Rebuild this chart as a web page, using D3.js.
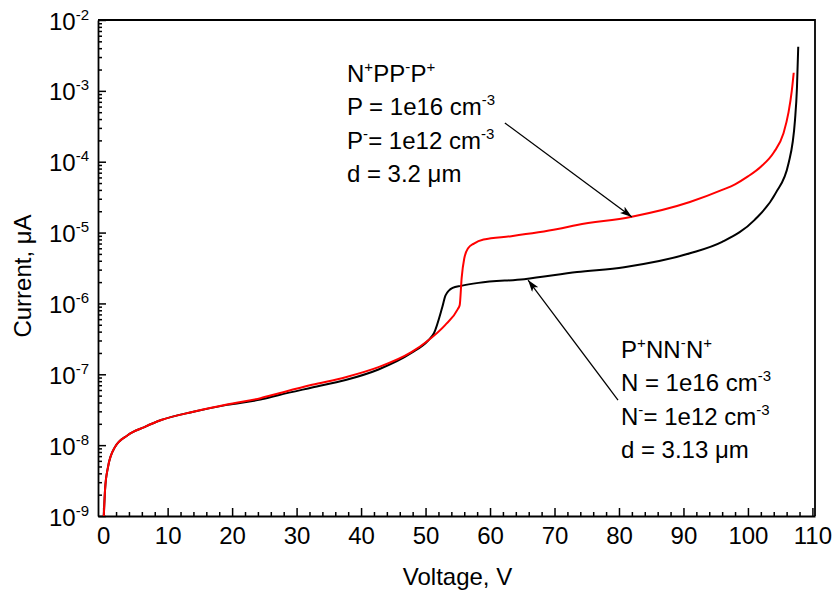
<!DOCTYPE html>
<html>
<head>
<meta charset="utf-8">
<script src="https://cdn.jsdelivr.net/npm/d3@7"></script>
<style>
  body { margin: 0; background: #fff; }
  svg { font-family: Arial, "Liberation Sans", sans-serif; }
</style>
</head>
<body>
<svg width="838" height="590"></svg>
<script>
// data (V in volts, I in µA)
var blackV = [0.1, 0.3, 0.75, 1.8, 3.8, 6.4, 9, 14, 19.2, 24.4, 27.3, 32.4, 37.6, 42.7, 47.8, 50.4, 51.3, 52.6, 53.1, 54.2, 55.5, 58.2, 65.3, 73.5, 80.8, 91, 96, 101, 104.3, 106.3, 107.3, 107.6, 107.8];
var blackI = [1e-9, 2.4e-9, 4.9e-9, 9.3e-9, 1.38e-8, 1.8e-8, 2.26e-8, 2.96e-8, 3.7e-8, 4.4e-8, 5.1e-8, 6.5e-8, 8.3e-8, 1.17e-7, 2e-7, 3e-7, 3.8e-7, 8.9e-7, 1.3e-6, 1.66e-6, 1.77e-6, 1.95e-6, 2.2e-6, 2.77e-6, 3.25e-6, 5.1e-6, 7.4e-6, 1.5e-5, 3.6e-5, 9.5e-5, 3.9e-4, 1.1e-3, 4.2e-3];

var redV = [0.1, 0.3, 0.75, 1.8, 3.8, 6.4, 9, 14, 19.2, 24.4, 27.3, 32.4, 37.6, 42.7, 47.8, 50.4, 53, 55, 55.3, 55.6, 56.0, 56.6, 57.5, 59, 63.3, 70.5, 73.5, 81.8, 91, 96, 98, 100, 102, 104, 105.5, 106.3, 106.8, 107.1];
var redI = [1e-9, 2.4e-9, 4.9e-9, 9.3e-9, 1.38e-8, 1.8e-8, 2.26e-8, 2.96e-8, 3.75e-8, 4.6e-8, 5.4e-8, 7.1e-8, 9.1e-8, 1.26e-7, 2.05e-7, 3e-7, 4.9e-7, 8.3e-7, 9.5e-7, 2.3e-6, 4.3e-6, 6e-6, 7e-6, 8e-6, 8.9e-6, 1.12e-5, 1.28e-5, 1.66e-5, 2.7e-5, 4e-5, 4.8e-5, 6.2e-5, 8.5e-5, 1.35e-4, 2.5e-4, 5e-4, 1e-3, 1.8e-3];

var xTicks = [0, 10, 20, 30, 40, 50, 60, 70, 80, 90, 100, 110];
var yExps = [-9, -8, -7, -6, -5, -4, -3, -2];

// annotation text: [text, superscript] pieces per line
var label1 = [
  [["N", ""], ["", "+"], ["PP", ""], ["", "-"], ["P", ""], ["", "+"]],
  [["P = 1e16 cm", ""], ["", "-3"]],
  [["P", ""], ["", "-"], [" = 1e12 cm", ""], ["", "-3"]],
  [["d = 3.2 \u03bcm", ""]]
];
var label2 = [
  [["P", ""], ["", "+"], ["NN", ""], ["", "-"], ["N", ""], ["", "+"]],
  [["N = 1e16 cm", ""], ["", "-3"]],
  [["N", ""], ["", "-"], [" = 1e12 cm", ""], ["", "-3"]],
  [["d = 3.13 \u03bcm", ""]]
];
var label1Pos = [37.8, 1.33e-3];   // V, I of first baseline
var label2Pos = [80.3, 1.7e-7];
var arrow1 = [[62.3, 3.52e-4], [82.0, 1.66e-5]];
var arrow2 = [[79.85, 4.33e-8], [65.9, 2.14e-6]];

var svg = d3.select("svg");
var pL = 98, pT = 20, pR = 815, pB = 516;
var fs = 24, sfs = 15;

var x = d3.scaleLinear().domain([-0.8, 110.4]).range([pL, pR]);
var y = d3.scaleLog().domain([1e-9, 1e-2]).range([pB, pT]);

// minor ticks
var xMinor = d3.range(0, 111, 2).filter(function(v){ return v % 10 != 0; });
var yMinor = [];
yExps.slice(0, -1).forEach(function(e){
  for (var k = 2; k <= 9; k++) yMinor.push(k * Math.pow(10, e));
});

svg.append("g").attr("transform", "translate(0," + pB + ")")
  .call(d3.axisBottom(x).tickValues(xMinor).tickSize(-4).tickFormat(""))
  .call(function(g){ g.select(".domain").remove(); });
svg.append("g").attr("transform", "translate(" + pL + ",0)")
  .call(d3.axisLeft(y).tickValues(yMinor).tickSize(-4).tickFormat(""))
  .call(function(g){ g.select(".domain").remove(); });

var xAxis = svg.append("g").attr("transform", "translate(0," + pB + ")")
  .call(d3.axisBottom(x).tickValues(xTicks).tickSize(-8).tickSizeOuter(0).tickPadding(11));
xAxis.selectAll("text").attr("font-size", fs).attr("font-family", "Arial, 'Liberation Sans', sans-serif").attr("fill", "#000");

var yAxis = svg.append("g").attr("transform", "translate(" + pL + ",0)")
  .call(d3.axisLeft(y).tickValues(yExps.map(function(e){ return Math.pow(10, e); }))
    .tickSize(-8).tickSizeOuter(0).tickFormat(""));
yAxis.selectAll(".tick").each(function(d){
  var t = d3.select(this).append("text")
    .attr("x", -9).attr("y", 9)
    .attr("text-anchor", "end")
    .attr("fill", "#000")
    .attr("font-size", fs)
    .attr("font-family", "Arial, 'Liberation Sans', sans-serif");
  t.append("tspan").text("10");
  t.append("tspan").attr("dy", -10).attr("font-size", sfs).text(Math.round(Math.log10(d)));
});

svg.selectAll(".tick line").attr("stroke", "#000").attr("stroke-width", 1.5);
svg.selectAll(".domain").attr("stroke", "#000").attr("stroke-width", 1.8);

// frame top / right
svg.append("path")
  .attr("d", "M" + pL + "," + pT + "H" + pR + "V" + pB)
  .attr("fill", "none").attr("stroke", "#000").attr("stroke-width", 1.8);

// clip
svg.append("clipPath").attr("id", "clip").append("rect")
  .attr("x", pL).attr("y", pT).attr("width", pR - pL).attr("height", pB - pT);

var line = d3.line()
  .x(function(d){ return x(d[0]); })
  .y(function(d){ return y(d[1]); })
  .curve(d3.curveMonotoneX);

var plot = svg.append("g").attr("clip-path", "url(#clip)");
plot.append("path").datum(d3.zip(blackV, blackI))
  .attr("d", line).attr("fill", "none").attr("stroke", "#000").attr("stroke-width", 2);
plot.append("path").datum(d3.zip(redV, redI))
  .attr("d", line).attr("fill", "none").attr("stroke", "#ff0000").attr("stroke-width", 2);

// arrows
svg.append("defs").append("marker")
  .attr("id", "head").attr("viewBox", "0 0 12 8")
  .attr("refX", 12).attr("refY", 4)
  .attr("markerWidth", 12).attr("markerHeight", 8)
  .attr("markerUnits", "userSpaceOnUse")
  .attr("orient", "auto")
  .append("path").attr("d", "M0,0L12,4L0,8L3,4Z").attr("fill", "#000");

[arrow1, arrow2].forEach(function(a){
  svg.append("line")
    .attr("x1", x(a[0][0])).attr("y1", y(a[0][1]))
    .attr("x2", x(a[1][0])).attr("y2", y(a[1][1]))
    .attr("stroke", "#000").attr("stroke-width", 1.3)
    .attr("marker-end", "url(#head)");
});

function drawLabel(lines, pos){
  var x0 = x(pos[0]), y0 = y(pos[1]);
  lines.forEach(function(parts, i){
    var t = svg.append("text")
      .attr("x", x0).attr("y", y0 + i * 33.3)
      .attr("font-size", fs).attr("fill", "#000");
    parts.forEach(function(p){
      if (p[0]) t.append("tspan").text(p[0]);
      if (p[1]) {
        t.append("tspan").attr("dy", -10).attr("font-size", sfs).text(p[1]);
        t.append("tspan").attr("dy", 10).attr("font-size", 1).text(" ");
      }
    });
  });
}
drawLabel(label1, label1Pos);
drawLabel(label2, label2Pos);

// axis titles
svg.append("text")
  .attr("x", (pL + pR) / 2 + 1).attr("y", 585)
  .attr("text-anchor", "middle").attr("font-size", fs)
  .text("Voltage, V");
svg.append("text")
  .attr("transform", "translate(31,276) rotate(-90)")
  .attr("text-anchor", "middle").attr("font-size", fs)
  .text("Current, \u03bcA");
</script>
</body>
</html>
